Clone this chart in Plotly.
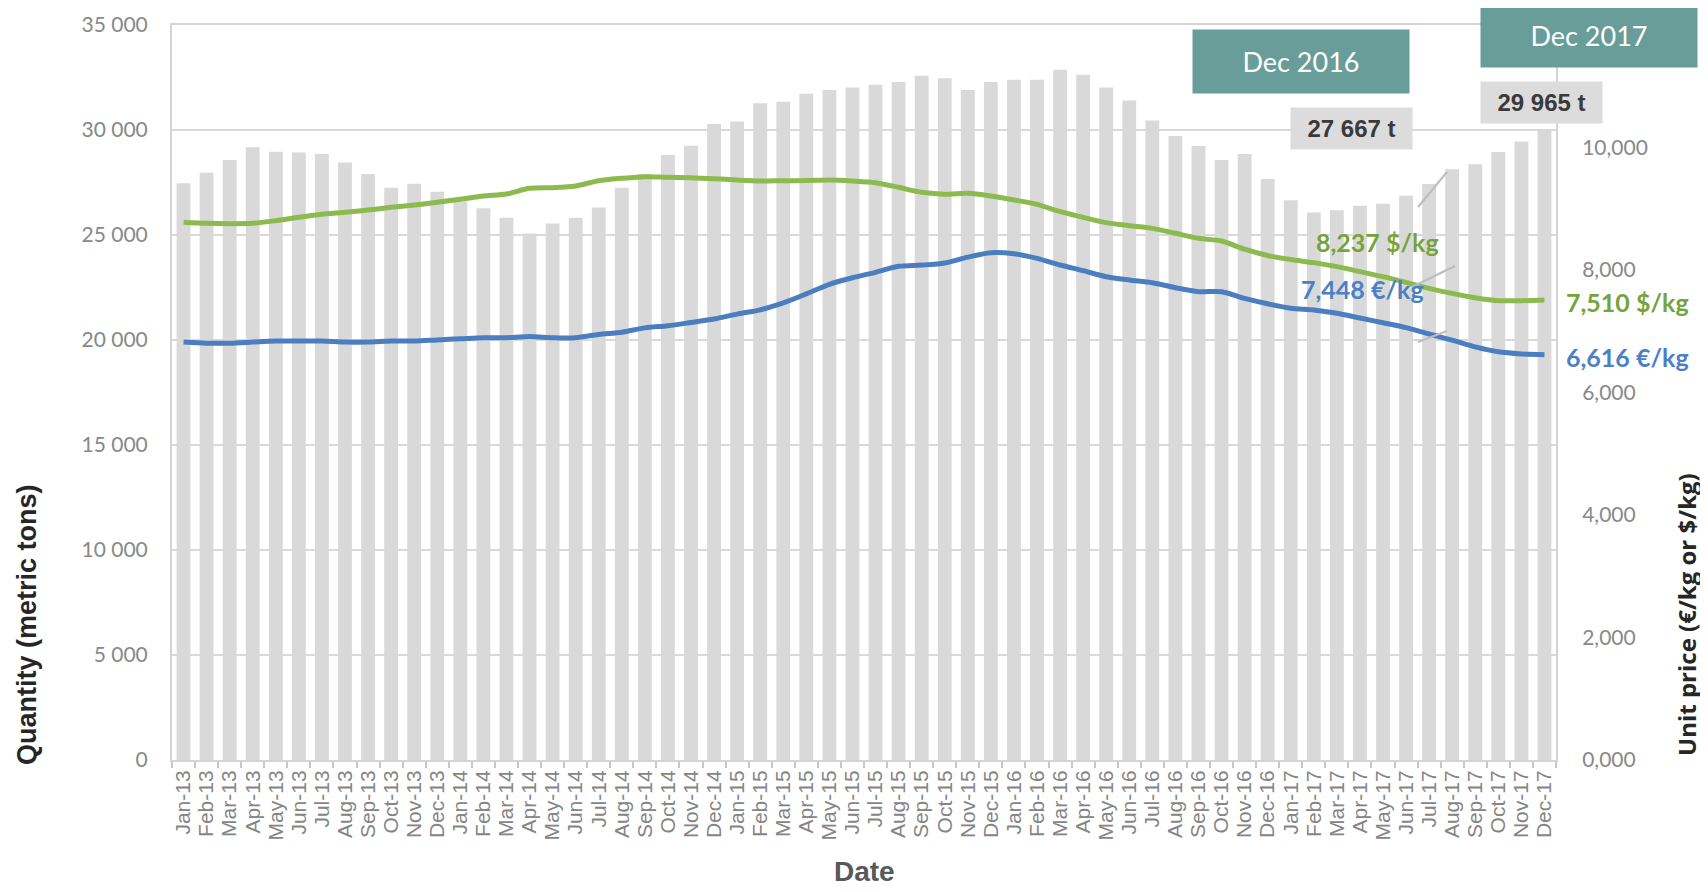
import plotly.graph_objects as go

# ---------------- data ----------------
months = [f"{m}-{y}" for y in ["13", "14", "15", "16", "17"]
          for m in ["Jan", "Feb", "Mar", "Apr", "May", "Jun",
                    "Jul", "Aug", "Sep", "Oct", "Nov", "Dec"]]

quantity_t = [27460, 27970, 28570, 29180, 28970, 28930, 28860, 28450, 27900, 27250,
              27440, 27060, 26590, 26270, 25820, 25070, 25550, 25820, 26310, 27250,
              27900, 28810, 29250, 30280, 30410, 31270, 31350, 31730, 31910, 32020,
              32150, 32280, 32580, 32470, 31910, 32280, 32390, 32390, 32870, 32630,
              32020, 31400, 30450, 29720, 29240, 28570, 28860, 27667, 26660, 26070,
              26180, 26390, 26490, 26870, 27430, 28130, 28370, 28950, 29450, 29965]

price_usd = [8.779, 8.762, 8.756, 8.762, 8.805, 8.860, 8.909, 8.942, 8.980, 9.023,
             9.061, 9.105, 9.154, 9.208, 9.241, 9.333, 9.344, 9.371, 9.458, 9.497,
             9.524, 9.513, 9.508, 9.491, 9.469, 9.453, 9.458, 9.460, 9.469, 9.453,
             9.426, 9.350, 9.268, 9.236, 9.252, 9.208, 9.143, 9.072, 8.952, 8.860,
             8.773, 8.724, 8.680, 8.599, 8.517, 8.473, 8.340, 8.237, 8.170, 8.120,
             8.055, 7.973, 7.891, 7.799, 7.701, 7.619, 7.548, 7.499, 7.499, 7.510]

price_eur = [6.824, 6.806, 6.806, 6.824, 6.841, 6.841, 6.841, 6.824, 6.824, 6.841,
             6.841, 6.859, 6.877, 6.895, 6.895, 6.913, 6.895, 6.895, 6.948, 6.984,
             7.055, 7.091, 7.144, 7.200, 7.280, 7.350, 7.464, 7.610, 7.766, 7.873,
             7.962, 8.060, 8.080, 8.115, 8.210, 8.283, 8.265, 8.190, 8.082, 7.989,
             7.891, 7.837, 7.793, 7.711, 7.646, 7.646, 7.537, 7.448, 7.374, 7.347,
             7.293, 7.216, 7.140, 7.060, 6.955, 6.855, 6.745, 6.665, 6.630, 6.616]

left_ticks = [0, 5000, 10000, 15000, 20000, 25000, 30000, 35000]
right_ticks = [0, 2, 4, 6, 8, 10]
callout_labels = ["Dec 2016", "Dec 2017"]
x_title = "Date"
y_title = "Quantity (metric tons)"
y2_title = "Unit price (€/kg or $/kg)"

# ---------------- layout helpers ----------------
OFF = 8  # default page body margin
SW, SH = 1708, 892          # screen size
W, H = SW - OFF, SH - OFF   # figure size
L, R, T, B = 172, 1556, 25, 760   # plot area in screen pixels


def px(x):
    return (x - L) / (R - L)


def py(y):
    return (B - y) / (B - T)


GREEN_LINE = "#8cba4e"
GREEN_TEXT = "#76a33b"
BLUE_LINE = "#4a7ec0"
BLUE_TEXT = "#4b80c6"
TEAL = "#689d99"
GRID = "#d9d9d9"

fig = go.Figure()
fig.add_bar(x=months, y=quantity_t, marker_color="#d9d9d9", marker_line_width=0,
            width=0.6, yaxis="y", name="Quantity")
fig.add_scatter(x=months, y=price_usd, mode="lines", yaxis="y2", name="$/kg",
                line=dict(color=GREEN_LINE, width=5, shape="spline", smoothing=0.8))
fig.add_scatter(x=months, y=price_eur, mode="lines", yaxis="y2", name="€/kg",
                line=dict(color=BLUE_LINE, width=5, shape="spline", smoothing=0.8))

tick_font = dict(family="Lato", size=21, color="#888888")

fig.update_layout(
    template="none",
    width=W, height=H,
    margin=dict(l=L - OFF, r=SW - R, t=T - OFF, b=SH - B, autoexpand=False),
    paper_bgcolor="white", plot_bgcolor="white",
    showlegend=False,
    separators=", ",
    xaxis=dict(type="category", tickmode="array", tickvals=months, ticktext=months,
               tickangle=-90, tickfont=dict(family="Liberation Sans", size=21, color="#858585"),
               ticks="outside", tickson="boundaries", ticklen=6, tickcolor="#c8c8c8",
               tickwidth=2, showline=True, linecolor="#d4d4d4", linewidth=2, mirror=True,
               showgrid=False, automargin=False, range=[-0.5, len(months) - 0.5]),
    yaxis=dict(range=[0, 35000], tickmode="array", tickvals=left_ticks, tickformat=",d",
               tickfont=tick_font, showgrid=True, gridcolor=GRID, gridwidth=2,
               showline=True, linecolor="#d4d4d4", linewidth=2, zeroline=False,
               ticks="", ticklabelstandoff=18, automargin=False),
    yaxis2=dict(range=[0, 12], overlaying="y", side="right", tickmode="array",
                tickvals=right_ticks, tickformat=".3f", tickfont=tick_font,
                showgrid=False, showline=True, linecolor="#d4d4d4", linewidth=2,
                zeroline=False, ticks="", ticklabelstandoff=20, automargin=False),
)

ann = []


def add_text(text, x, y, **kw):
    d = dict(text=text, x=px(x), y=py(y), xref="paper", yref="paper",
             xanchor="center", yanchor="middle", showarrow=False)
    d.update(kw)
    ann.append(d)


# axis titles
add_text(f"<b>{x_title}</b>", 864, 872,
         font=dict(family="Liberation Sans", size=28, color="#595959"))
add_text(f"<b>{y_title}</b>", 27, 625, textangle=-90,
         font=dict(family="Liberation Sans", size=27, color="#262626"))
add_text(f"<b>{y2_title}</b>", 1686, 614, textangle=-90,
         font=dict(family="Open Sans", size=24, color="#262626"))

# teal callout boxes
for label, (cx, cy) in zip(callout_labels, [(1301, 61.5), (1589, 35.5)]):
    add_text(label, cx, cy, bgcolor=TEAL, width=216, height=63, borderpad=0,
             font=dict(family="Lato", size=27, color="white"))


def fmt_t(v):
    return f"{v:,}".replace(",", " ") + " t"


def fmt_p(v, unit):
    return f"{v:.3f}".replace(".", ",") + " " + unit


# quantity labels
for idx, (cx, cy) in [(47, (1351, 128.5)), (59, (1541.5, 102.5))]:
    add_text(f"<b>{fmt_t(quantity_t[idx])}</b>", cx, cy, bgcolor="#dcdcdc",
             width=121, height=41, borderpad=0,
             font=dict(family="Liberation Sans", size=24, color="#3a3a3a"))

# price labels
price_labels = [
    (fmt_p(price_usd[47], "$/kg"), GREEN_TEXT, 1377, 242),
    (fmt_p(price_eur[47], "€/kg"), BLUE_TEXT, 1362, 289),
    (fmt_p(price_usd[-1], "$/kg"), GREEN_TEXT, 1627, 302),
    (fmt_p(price_eur[-1], "€/kg"), BLUE_TEXT, 1627, 357),
]
for txt, col, cx, cy in price_labels:
    add_text(f"<b>{txt}</b>", cx, cy, font=dict(family="Lato", size=25, color=col))

fig.update_layout(annotations=ann)

# leader lines
for (x0, y0, x1, y1) in [(1418, 207, 1447, 172), (1412, 287, 1455, 266), (1418, 342, 1447, 331)]:
    fig.add_shape(type="line", xref="paper", yref="paper",
                  x0=px(x0), y0=py(y0), x1=px(x1), y1=py(y1),
                  line=dict(color="#bdbdbd", width=2))

fig.write_html("out.html")
